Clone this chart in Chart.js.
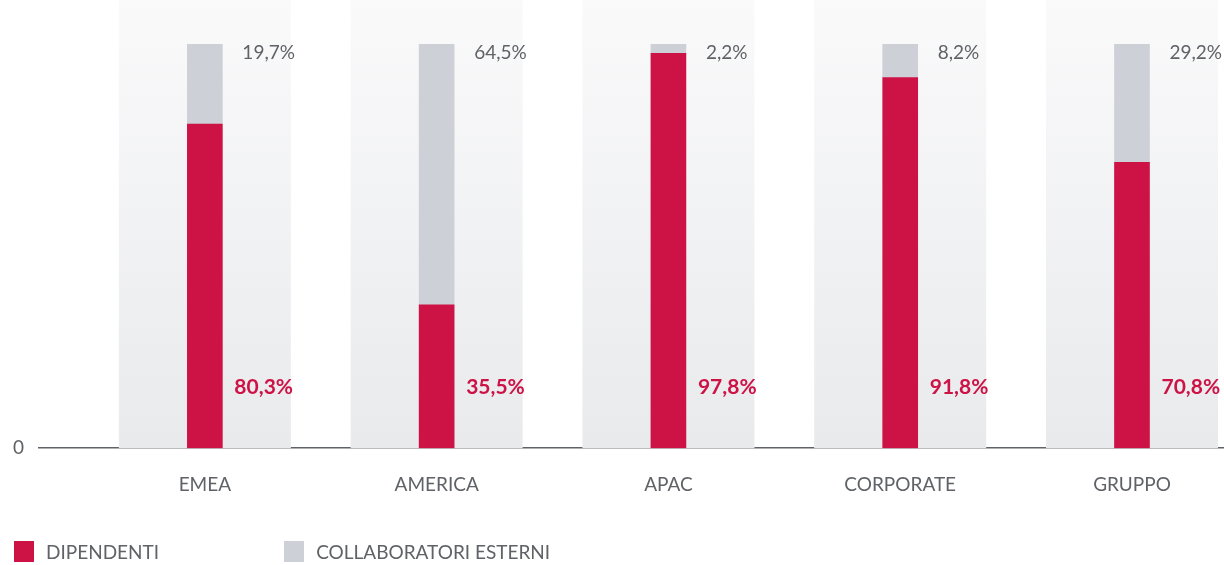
<!DOCTYPE html>
<html lang="it">
<head>
<meta charset="utf-8">
<title>Dipendenti e collaboratori esterni</title>
<script src="https://cdn.jsdelivr.net/npm/chart.js@4/dist/chart.umd.min.js"></script>
<style>
  html, body { margin: 0; padding: 0; background: #fff; }
  #wrap { position: relative; width: 1224px; height: 565px; }
  #legend { position: absolute; left: 14px; top: 540px; display: flex; font-family: Lato, sans-serif; font-size: 19px; color: #5f6266; }
  #legend .item { display: flex; align-items: center; margin-right: 125px; }
  #legend .box { width: 20px; height: 21px; margin-right: 12px; }
</style>
</head>
<body>
<div id="wrap">
  <canvas id="chart" width="1224" height="565"></canvas>
  <div id="legend"></div>
</div>
<script>
const categories = ['EMEA', 'AMERICA', 'APAC', 'CORPORATE', 'GRUPPO'];
const dipendenti = [80.3, 35.5, 97.8, 91.8, 70.8];
const collaboratori = [19.7, 64.5, 2.2, 8.2, 29.2];
const yTicks = [0];

const RED = '#cd1246';
const GREY = '#cdd0d6';
const TEXT = '#5f6266';

const fmt = v => v.toFixed(1).replace('.', ',') + '%';

// light vertical bands behind each column, from the top edge down to the axis
const bandPlugin = {
  id: 'bands',
  beforeDatasetsDraw(chart) {
    const { ctx, chartArea, scales } = chart;
    const g = ctx.createLinearGradient(0, 0, 0, chartArea.bottom);
    g.addColorStop(0, '#fafafb');
    g.addColorStop(1, '#e9eaec');
    ctx.save();
    ctx.fillStyle = g;
    categories.forEach((c, i) => {
      const x = scales.x.getPixelForValue(i);
      ctx.fillRect(x - 86, 0, 172, chartArea.bottom);
    });
    ctx.restore();
  }
};

// percentage labels next to each bar
const labelPlugin = {
  id: 'pctLabels',
  afterDatasetsDraw(chart) {
    const { ctx, scales } = chart;
    const bars = chart.getDatasetMeta(0).data;
    const topY = scales.y.getPixelForValue(100);
    const baseY = scales.y.getPixelForValue(0);
    ctx.save();
    ctx.textAlign = 'left';
    ctx.textBaseline = 'alphabetic';
    bars.forEach((bar, i) => {
      const right = bar.x + bar.width / 2;
      ctx.font = '19px Lato, sans-serif';
      ctx.fillStyle = TEXT;
      ctx.fillText(fmt(collaboratori[i]), right + 20, topY + 15);
      ctx.font = 'bold 21px Lato, sans-serif';
      ctx.fillStyle = RED;
      ctx.fillText(fmt(dipendenti[i]), right + 12, baseY - 54);
    });
    ctx.restore();
  }
};

const chart = new Chart(document.getElementById('chart'), {
  type: 'bar',
  data: {
    datasets: [
      {
        label: 'DIPENDENTI',
        data: categories.map((c, i) => ({ x: i, y: dipendenti[i] })),
        backgroundColor: RED
      },
      {
        label: 'COLLABORATORI ESTERNI',
        data: categories.map((c, i) => ({ x: i, y: collaboratori[i] })),
        backgroundColor: GREY
      }
    ]
  },
  options: {
    responsive: false,
    animation: false,
    barThickness: 35,
    layout: { padding: { left: -2, right: 0, top: 0, bottom: 44 } },
    plugins: {
      legend: { display: false },
      tooltip: { enabled: false }
    },
    scales: {
      x: {
        type: 'linear',
        stacked: true,
        offset: false,
        min: -0.7155,
        max: 4.397,
        afterBuildTicks: axis => { axis.ticks = categories.map((c, i) => ({ value: i })); },
        grid: { display: false, drawTicks: false },
        border: { display: true, color: TEXT, width: 1.5 },
        ticks: {
          padding: 25,
          color: TEXT,
          font: { family: 'Lato', size: 19 },
          callback: v => categories[v]
        }
      },
      y: {
        stacked: true,
        min: 0,
        max: 104.46,
        afterBuildTicks: axis => { axis.ticks = yTicks.map(v => ({ value: v })); },
        grid: { display: false, drawTicks: false },
        border: { display: false },
        ticks: {
          padding: 15,
          color: TEXT,
          font: { family: 'Lato', size: 19 }
        }
      }
    }
  },
  plugins: [bandPlugin, labelPlugin]
});

// legend below the plot
const legend = document.getElementById('legend');
chart.data.datasets.forEach(ds => {
  const item = document.createElement('div');
  item.className = 'item';
  const box = document.createElement('span');
  box.className = 'box';
  box.style.background = ds.backgroundColor;
  const txt = document.createElement('span');
  txt.textContent = ds.label;
  item.appendChild(box);
  item.appendChild(txt);
  legend.appendChild(item);
});
</script>
</body>
</html>
